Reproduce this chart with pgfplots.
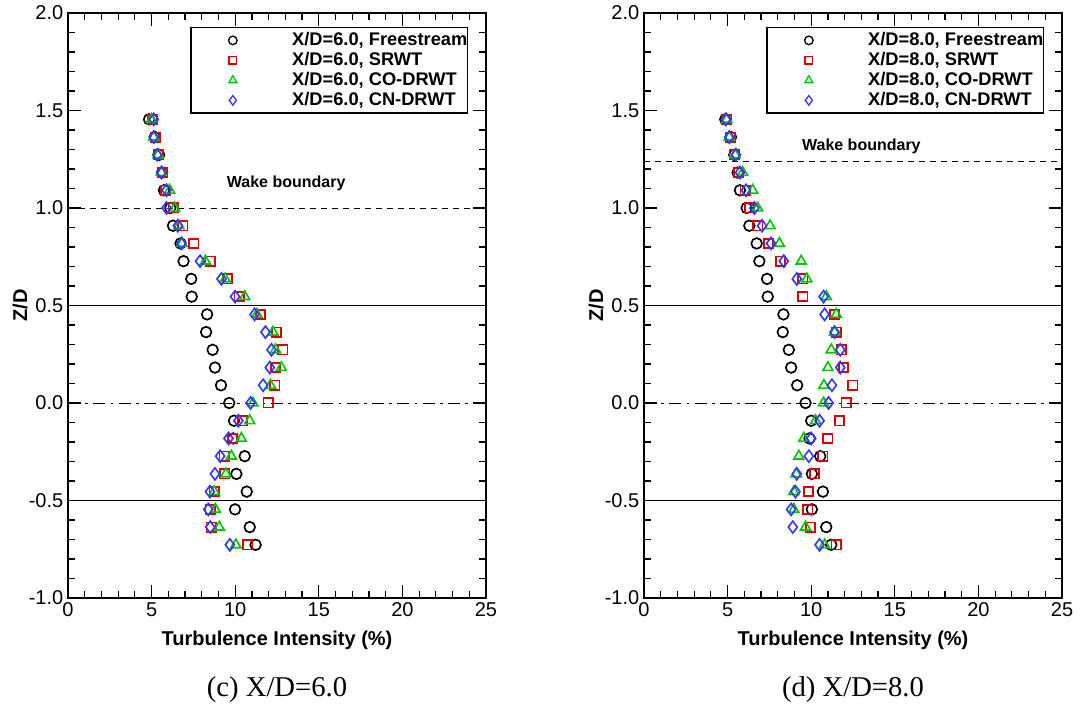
\documentclass[border=0pt]{standalone}
\usepackage{fontspec}
\setmainfont{Liberation Sans}
\newfontfamily\serifcap{Liberation Serif}
\usepackage{pgfplots}
\usepackage{pgfplotstable}
\pgfplotsset{compat=1.18}

\definecolor{tred}{RGB}{220,0,0}
\definecolor{tgreen}{RGB}{0,200,0}
\definecolor{tblue}{RGB}{55,55,255}

\pgfplotstableread{
z fs sr co cn
1.4545 4.85 5.06 5.00 5.13
1.3636 5.19 5.21 5.13 5.13
1.2727 5.45 5.39 5.39 5.33
1.1818 5.63 5.63 5.59 5.59
1.0909 5.74 5.84 6.08 5.89
1.0000 6.12 6.28 6.38 5.89
0.9091 6.28 6.87 6.63 6.57
0.8182 6.73 7.52 6.81 6.78
0.7273 6.91 8.51 8.22 7.90
0.6364 7.37 9.54 9.40 9.18
0.5455 7.40 10.23 10.57 9.99
0.4545 8.32 11.52 11.30 11.16
0.3636 8.26 12.47 12.26 11.81
0.2727 8.65 12.84 12.41 12.17
0.1818 8.79 12.41 12.76 12.07
0.0909 9.15 12.37 12.11 11.67
0.0000 9.64 11.97 11.06 10.92
-0.0909 9.93 10.43 10.87 10.19
-0.1818 9.88 9.83 10.37 9.60
-0.2727 10.57 9.34 9.77 9.10
-0.3636 10.07 9.38 9.44 8.79
-0.4545 10.69 8.75 8.75 8.49
-0.5455 9.99 8.51 8.81 8.39
-0.6364 10.87 8.57 9.05 8.51
-0.7273 11.22 10.76 10.04 9.68
}\leftdata

\pgfplotstableread{
z fs sr co cn
1.4545 4.86 4.95 4.95 4.90
1.3636 5.20 5.15 5.10 5.10
1.2727 5.40 5.40 5.45 5.50
1.1818 5.60 5.66 5.90 5.74
1.0909 5.74 6.06 6.50 6.10
1.0000 6.14 6.30 6.80 6.60
0.9091 6.30 6.80 7.54 7.06
0.8182 6.74 7.44 8.10 7.60
0.7273 6.90 8.16 9.40 8.36
0.6364 7.36 9.50 9.74 9.14
0.5455 7.40 9.50 10.90 10.74
0.4545 8.34 11.40 11.50 10.80
0.3636 8.30 11.50 11.40 11.40
0.2727 8.66 11.80 11.20 11.74
0.1818 8.80 11.94 11.00 11.74
0.0909 9.16 12.48 10.76 11.24
0.0000 9.66 12.10 10.74 11.04
-0.0909 10.00 11.70 10.26 10.50
-0.1818 9.90 11.00 9.56 10.00
-0.2727 10.54 10.70 9.26 9.86
-0.3636 10.04 10.20 9.10 9.14
-0.4545 10.70 9.84 8.96 9.06
-0.5455 10.04 9.80 8.96 8.80
-0.6364 10.90 9.96 9.66 8.90
-0.7273 11.20 11.50 10.80 10.50
}\rightdata

\pgfplotsset{
  tstyle/.style={
    scale only axis, width=313.5pt, height=438.75pt,
    clip mode=individual,
    xmin=0, xmax=25, ymin=-1, ymax=2,
    xtick={0,5,10,15,20,25}, xticklabels={0,5,10,15,20,25},
    ytick={-1,-0.5,0,0.5,1,1.5,2},
    yticklabels={-1.0,-0.5,0.0,0.5,1.0,1.5,2.0},
    minor x tick num=4, minor y tick num=4,
    tick align=inside, tick pos=both,
    major tick length=10pt, minor tick length=5pt,
    axis line style={line width=2pt},
    every tick/.style={black, line width=0.9pt},
    ticklabel style={font=\fontsize{15}{18}\selectfont},
    xlabel={Turbulence Intensity (\%)},
    ylabel={Z/D},
    label style={font=\fontsize{15}{18}\selectfont\bfseries},
    xlabel style={at={(axis description cs:0.5,-0.0718)}, anchor=center},
    ylabel style={at={(axis description cs:-0.1148,0.5)}, anchor=center, rotate=0},
    legend cell align=left,
    legend style={at={(axis description cs:0.957,0.976)}, anchor=north east,
      draw=black, line width=1pt, inner xsep=0pt, inner ysep=3pt,
      font=\fontsize{13.7}{15}\selectfont\bfseries,
      nodes={inner sep=0pt, text height=10pt, text depth=3pt},
      row sep=2pt, column sep=0pt},
    legend image code/.code={%
      \path[draw=none, fill=none] (0pt,0pt) -- (76pt,0pt);
      \draw[##1, mark options={scale=0.8}] plot coordinates {(31.5pt,0pt)};},
  },
  fsstyle/.style={only marks, mark=o, mark size=4.0pt, black, mark options={line width=1.25pt}},
  srstyle/.style={only marks, mark=square, mark size=3.5pt, tred, mark options={line width=1.25pt}},
  costyle/.style={only marks, mark=triangle, mark size=4.3pt, tgreen, mark options={line width=1.25pt}},
  cnstyle/.style={only marks, mark=diamond, mark size=4.5pt, tblue, mark options={line width=1.25pt}},
}

\begin{document}
\begin{tikzpicture}
\begin{axis}[tstyle]
  \addplot[black, line width=0.8pt, forget plot] coordinates {(0,0.5) (25,0.5)};
  \addplot[black, line width=0.8pt, forget plot] coordinates {(0,-0.5) (25,-0.5)};
  \addplot[black, line width=0.7pt, dash pattern=on 9pt off 4pt on 2pt off 4pt, forget plot] coordinates {(0,0) (25,0)};
  \addplot[black, line width=0.6pt, dash pattern=on 4.5pt off 3.75pt, forget plot] coordinates {(0,1.0) (25,1.0)};
  \addplot[fsstyle] table[x=fs, y=z] {\leftdata};
  \addplot[srstyle] table[x=sr, y=z] {\leftdata};
  \addplot[costyle] table[x=co, y=z] {\leftdata};
  \addplot[cnstyle] table[x=cn, y=z] {\leftdata};
  \legend{X/D=6.0{,} Freestream, X/D=6.0{,} SRWT, X/D=6.0{,} CO-DRWT, X/D=6.0{,} CN-DRWT}
  \node[font=\fontsize{12}{14}\selectfont\bfseries] at (axis cs:13.05,1.128) {Wake boundary};
  \node[font=\serifcap\fontsize{21.5}{25}\selectfont] at (axis description cs:0.5,-0.1573) {(c) X/D=6.0};
\end{axis}
\begin{axis}[tstyle, xshift=432pt]
  \addplot[black, line width=0.8pt, forget plot] coordinates {(0,0.5) (25,0.5)};
  \addplot[black, line width=0.8pt, forget plot] coordinates {(0,-0.5) (25,-0.5)};
  \addplot[black, line width=0.7pt, dash pattern=on 9pt off 4pt on 2pt off 4pt, forget plot] coordinates {(0,0) (25,0)};
  \addplot[black, line width=0.6pt, dash pattern=on 4.5pt off 3.75pt, forget plot] coordinates {(0,1.241) (25,1.241)};
  \addplot[fsstyle] table[x=fs, y=z] {\rightdata};
  \addplot[srstyle] table[x=sr, y=z] {\rightdata};
  \addplot[costyle] table[x=co, y=z] {\rightdata};
  \addplot[cnstyle] table[x=cn, y=z] {\rightdata};
  \legend{X/D=8.0{,} Freestream, X/D=8.0{,} SRWT, X/D=8.0{,} CO-DRWT, X/D=8.0{,} CN-DRWT}
  \node[font=\fontsize{12}{14}\selectfont\bfseries] at (axis cs:13.0,1.318) {Wake boundary};
  \node[font=\serifcap\fontsize{21.5}{25}\selectfont] at (axis description cs:0.5,-0.1573) {(d) X/D=8.0};
\end{axis}
\pgfresetboundingbox
\path[use as bounding box] (-51pt,-89.25pt) rectangle (760.5pt,448.5pt);
\end{tikzpicture}
\end{document}
